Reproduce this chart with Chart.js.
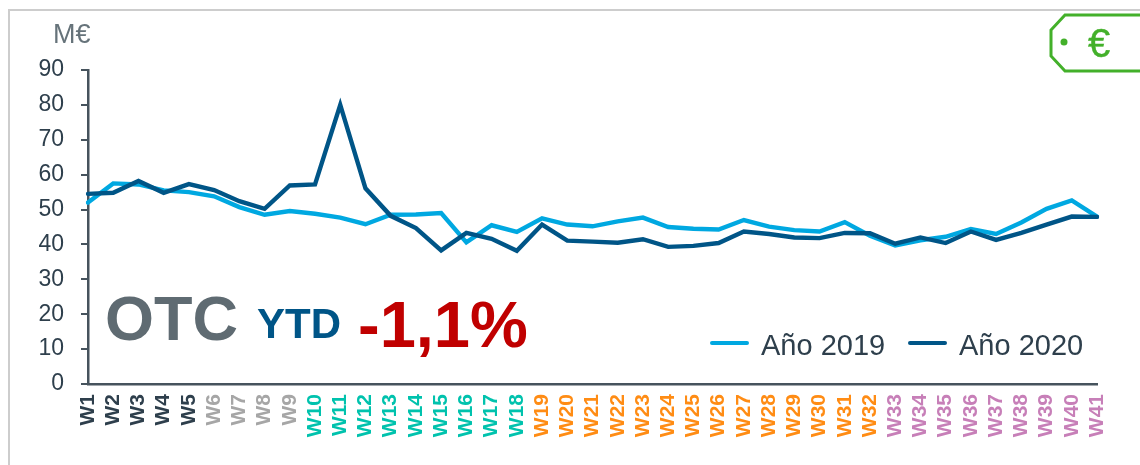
<!DOCTYPE html>
<html lang="es">
<head>
<meta charset="utf-8">
<script src="https://cdn.jsdelivr.net/npm/chart.js@4"></script>
<style>
html,body{margin:0;padding:0;background:#fff;width:1140px;height:465px;overflow:hidden;font-family:"Liberation Sans",Arial,sans-serif}
#wrap{position:relative;width:1140px;height:465px}
canvas{position:absolute;left:0;top:0}
.frameT{position:absolute;left:8px;top:9px;width:1132px;height:2px;background:#cdcdcd}
.frameL{position:absolute;left:8px;top:9px;width:2px;height:456px;background:#cdcdcd}
.t{position:absolute;line-height:1;white-space:nowrap}
.k{position:absolute;width:39px;height:4px;border-radius:2px;top:341px}
svg{position:absolute;left:0;top:0}
</style>
</head>
<body>
<div id="wrap">
<div class="frameT"></div><div class="frameL"></div>
<canvas id="c" width="1140" height="465"></canvas>
<svg width="1140" height="465"><polyline points="1141,15 1065,15 1051,30 1051,56 1065,71 1141,71" fill="none" stroke="#43b02a" stroke-width="3"/><circle cx="1064" cy="42" r="3.5" fill="#43b02a"/></svg>
<span class="t" style="left:1088px;top:23px;font-size:40px;color:#43b02a;-webkit-text-stroke:0.4px #43b02a">€</span>
<span class="t" style="left:53px;top:21px;font-size:27px;color:#66737a">M€</span>
<span class="t" style="left:105px;top:287px;font-size:63px;font-weight:bold;color:#5f6b72">OTC</span>
<span class="t" style="left:257px;top:303px;font-size:42px;font-weight:bold;color:#005587">YTD</span>
<span class="t" style="left:358px;top:292px;font-size:65px;font-weight:bold;color:#c00000">-1,1%</span>
<div class="k" style="left:710px;background:#00a8e1"></div>
<span class="t" style="left:761px;top:331px;font-size:29px;color:#2e3f4c">Año 2019</span>
<div class="k" style="left:908px;background:#005587"></div>
<span class="t" style="left:959px;top:331px;font-size:29px;color:#2e3f4c">Año 2020</span>
</div>
<script>
const weeks = ["W1","W2","W3","W4","W5","W6","W7","W8","W9","W10","W11","W12","W13","W14","W15","W16","W17","W18","W19","W20","W21","W22","W23","W24","W25","W26","W27","W28","W29","W30","W31","W32","W33","W34","W35","W36","W37","W38","W39","W40","W41"];
const year2019 = [52,57.5,57.2,55.5,55,53.8,50.7,48.5,49.6,48.8,47.7,45.8,48.5,48.6,49,40.6,45.5,43.6,47.5,45.7,45.2,46.6,47.7,45,44.5,44.3,47,45.1,44.1,43.7,46.4,42.5,39.7,41.2,42.2,44.4,43,46.3,50.2,52.6,48];
const year2020 = [54.5,54.8,58.2,54.8,57.3,55.6,52.4,50.2,56.9,57.2,80,56.1,48.2,44.7,38.3,43.3,41.6,38.2,45.7,41.1,40.8,40.5,41.5,39.3,39.6,40.4,43.7,43,42,41.8,43.3,43.2,40.2,42,40.4,43.7,41.3,43.3,45.7,48,47.9];
const weekColors = [...Array(5).fill("#2e3f4c"),...Array(4).fill("#a6a6a6"),...Array(9).fill("#00c2ad"),...Array(14).fill("#ff8c14"),...Array(9).fill("#c77fb8")];

new Chart(document.getElementById("c"),{
  type:"line",
  data:{labels:weeks,datasets:[
    {label:"Año 2019",data:year2019,borderColor:"#00a8e1",order:2},
    {label:"Año 2020",data:year2020,borderColor:"#005587",order:1}
  ]},
  options:{
    responsive:false,animation:false,
    layout:{padding:{left:0,top:70,right:43,bottom:0}},
    elements:{line:{borderWidth:4.4,tension:0,borderCapStyle:"round"},point:{radius:0}},
    plugins:{legend:{display:false},tooltip:{enabled:false}},
    scales:{
      x:{
        offset:false,
        grid:{display:false},
        border:{color:"#46535d",width:2.5},
        ticks:{autoSkip:false,maxRotation:90,minRotation:90,padding:2,
          color:ctx=>weekColors[ctx.index],
          font:{family:"Liberation Sans",size:21,weight:"bold"}},
        afterFit:s=>{s.height=81;}
      },
      y:{
        min:0,max:90,
        grid:{drawOnChartArea:false,tickLength:7,color:"#46535d",lineWidth:2},
        border:{color:"#46535d",width:2.5},
        ticks:{stepSize:10,padding:17,color:"#2e3f4c",font:{family:"Liberation Sans",size:23}},
        afterFit:s=>{s.width=88;}
      }
    }
  }
});
</script>
</body>
</html>
